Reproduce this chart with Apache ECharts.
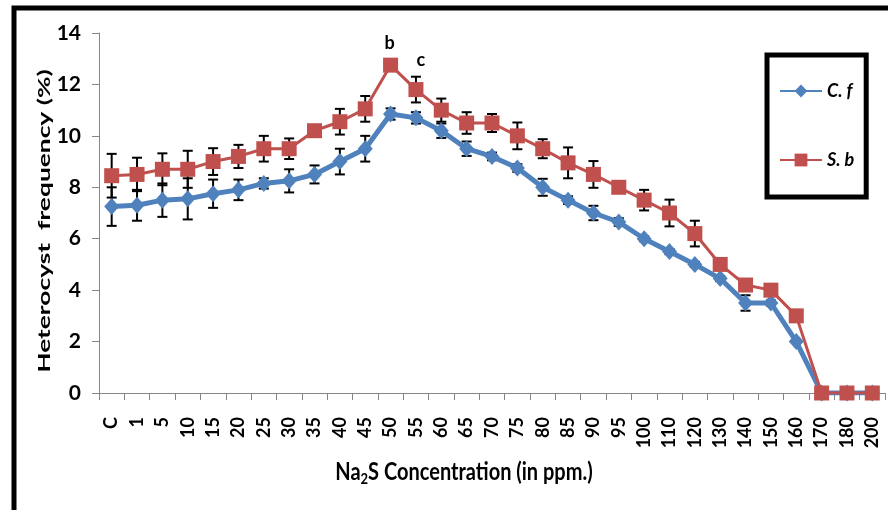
<!DOCTYPE html>
<html><head><meta charset="utf-8">
<script src="https://cdn.jsdelivr.net/npm/echarts@6/dist/echarts.min.js"></script>
<style>html,body{margin:0;padding:0;background:#fff}#c{width:888px;height:510px}</style>
</head><body><div id="c"></div>
<script>
const categories = ['C','1','5','10','15','20','25','30','35','40','45','50','55','60','65','70','75','80','85','90','95','100','110','120','130','140','150','160','170','180','200'];
const cfValues = [7.25,7.3,7.5,7.55,7.75,7.9,8.15,8.25,8.5,9.0,9.5,10.85,10.7,10.2,9.5,9.2,8.75,8.0,7.5,7.0,6.65,6.0,5.5,5.0,4.45,3.5,3.5,2.0,0,0,0];
const cfErrors = [0.75,0.6,0.65,0.8,0.55,0.4,0.2,0.45,0.35,0.5,0.5,0.22,0.22,0.28,0.28,0.15,0.15,0.33,0.15,0.28,0.15,0.1,0.1,0.1,0.1,0.3,0.1,0,0,0,0];
const sbValues = [8.45,8.5,8.7,8.7,9.0,9.2,9.5,9.5,10.2,10.55,11.05,12.75,11.8,11.0,10.5,10.5,10.0,9.5,8.95,8.5,8.0,7.5,7.0,6.2,5.0,4.2,4.0,3.0,0,0,0];
const sbErrors = [0.85,0.65,0.62,0.72,0.52,0.45,0.5,0.4,0.15,0.5,0.5,0,0.5,0.45,0.42,0.35,0.52,0.37,0.6,0.52,0,0.4,0.52,0.5,0,0,0,0,0,0,0];
const sbLetters = {'50':'b','55':'c'};
const yMin = 0, yMax = 14, yInterval = 2;

const FONT = 'Lato, "Open Sans", sans-serif';
const BLUE = '#4F81BD', RED = '#C0504D';

function errData(vals, errs){ return vals.map((v,i)=>[i, v, errs[i]]); }
function renderErr(params, api){
  const i = api.value(0), v = api.value(1), e = api.value(2);
  if (!e) return {type:'group', children:[]};
  const t = api.coord([i, v+e]), b = api.coord([i, v-e]);
  const w = 5;
  const st = {stroke:'#000', lineWidth:2};
  return {type:'group', children:[
    {type:'line', shape:{x1:t[0],y1:t[1],x2:b[0],y2:b[1]}, style:st},
    {type:'line', shape:{x1:t[0]-w,y1:t[1],x2:t[0]+w,y2:t[1]}, style:st},
    {type:'line', shape:{x1:b[0]-w,y1:b[1],x2:b[0]+w,y2:b[1]}, style:st}
  ]};
}
const sbData = sbValues.map((v,i)=>{
  const L = sbLetters[categories[i]];
  if (!L) return v;
  return {value:v, label:{show:true, formatter:L, position:'top',
    distance: L==='b'?5:13, offset: L==='b'?[-1,0]:[5,0],
    fontFamily:FONT, fontWeight:'bold', fontSize:18, color:'#000'}};
});

const chart = echarts.init(document.getElementById('c'), null, {renderer:'canvas'});
chart.setOption({
  animation:false,
  backgroundColor:'#fff',
  grid:{left:99, right:3, top:33, bottom:117, containLabel:false},
  xAxis:{type:'category', data:categories, boundaryGap:true,
    axisLine:{lineStyle:{color:'#868686', width:1}},
    axisTick:{show:true, length:7, alignWithLabel:false, lineStyle:{color:'#868686'}, interval:0},
    axisLabel:{interval:0, rotate:90, margin:24, fontFamily:FONT, fontWeight:'bold', fontSize:18, color:'#000'},
    splitLine:{show:false}},
  yAxis:{type:'value', min:yMin, max:yMax, interval:yInterval,
    axisLine:{show:true, lineStyle:{color:'#868686', width:1}},
    axisTick:{show:true, length:7, lineStyle:{color:'#868686'}},
    axisLabel:{margin:18, fontFamily:FONT, fontWeight:'bold', fontSize:21, color:'#000'},
    splitLine:{show:false}},
  legend:{orient:'vertical', left:767, top:55, data:['C. f','S. b'],
    itemWidth:42, itemHeight:16, itemGap:51,
    padding:[27,12,28,12],
    borderColor:'#000', borderWidth:5, backgroundColor:'#fff',
    textStyle:{fontFamily:FONT, fontWeight:'bold', fontStyle:'italic', fontSize:18, color:'#000'}},
  graphic:[
    {type:'rect', shape:{x:14, y:8, width:1000, height:1000}, style:{fill:'none', stroke:'#000', lineWidth:5}, z:100},
    {type:'text', x:464, y:472, scaleY:1.2, style:{text:'Na{s|2}S Concentration (in ppm.)', align:'center', verticalAlign:'middle',
      font:'bold 20px '+FONT, fill:'#000', rich:{s:{fontSize:13, fontWeight:'bold', fontFamily:FONT, padding:[12,0,0,0]}}}},
    {type:'text', x:45, y:221, rotation:Math.PI/2, scaleX:1.55, style:{text:'Heterocyst  frequency (%)', align:'center', verticalAlign:'middle',
      font:'bold 17px '+FONT, fill:'#000'}}
  ],
  series:[
    {type:'custom', name:'errCf', renderItem:renderErr, data:errData(cfValues, cfErrors), z:1, silent:true},
    {type:'custom', name:'errSb', renderItem:renderErr, data:errData(sbValues, sbErrors), z:1, silent:true},
    {type:'line', name:'C. f', data:cfValues, z:3, symbol:'diamond', symbolSize:[15,17],
      lineStyle:{color:BLUE, width:5}, itemStyle:{color:BLUE}},
    {type:'line', name:'S. b', data:sbData, z:4, symbol:'rect', symbolSize:15,
      lineStyle:{color:RED, width:3}, itemStyle:{color:RED}}
  ]
});
</script></body></html>
